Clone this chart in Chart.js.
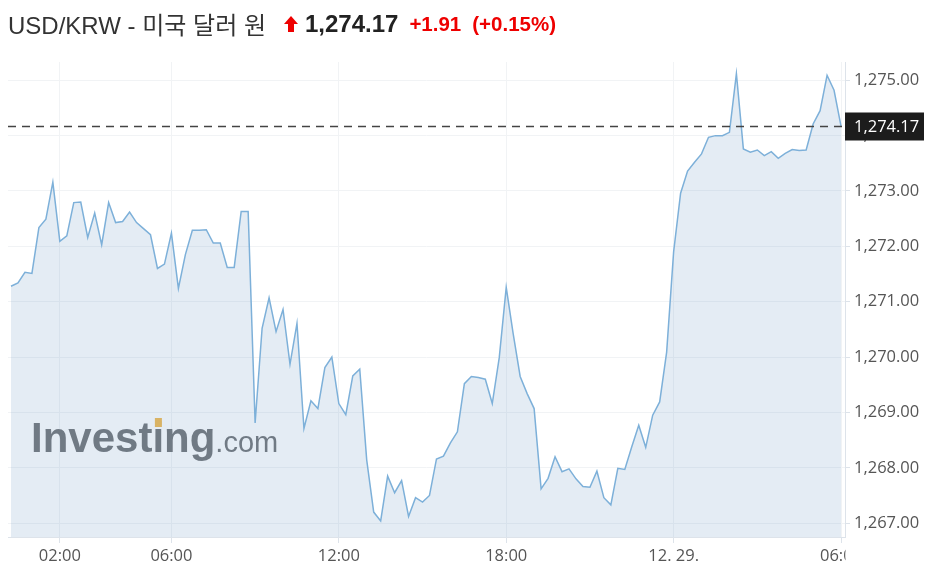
<!DOCTYPE html>
<html>
<head>
<meta charset="utf-8">
<script src="https://cdn.jsdelivr.net/npm/chart.js@4.4.1/dist/chart.umd.min.js"></script>
<style>
  body { margin: 0; background: #fff; }
  .wrap { position: relative; width: 936px; height: 584px; }
  .head {
    position: absolute; left: 8px; top: 6px; white-space: nowrap;
    font-family: "Liberation Sans", Arial, "Noto Sans CJK KR", sans-serif;
    color: #333; font-size: 24px; display: flex; align-items: center;
  }
  .head svg { margin: 0 7px 0 18px; }
  .price { font-weight: bold; color: #222; font-size: 24px; }
  .chg { font-weight: bold; color: #e00; font-size: 20.5px; margin-left: 11px; }
</style>
</head>
<body>
<div class="wrap">
  <canvas id="fx-chart" width="936" height="584"></canvas>
  <div class="head">
    <span>USD/KRW - 미국 달러 원</span>
    <svg width="14" height="16" viewBox="0 0 14 16"><polygon points="7,0 14,8 10,8 10,16 4,16 4,8 0,8" fill="#e00"/></svg>
    <span class="price">1,274.17</span>
    <span class="chg">+1.91</span>
    <span class="chg">(+0.15%)</span>
  </div>
</div>
<script>
// 15-minute quotes, 12/28 00:15 -> 12/29 06:00
const times = [
  "00:15","00:30","00:45","01:00","01:15","01:30","01:45","02:00","02:15","02:30","02:45","03:00",
  "03:15","03:30","03:45","04:00","04:15","04:30","04:45","05:00","05:15","05:30","05:45","06:00",
  "06:15","06:30","06:45","07:00","07:15","07:30","07:45","08:00","08:15","08:30","08:45","09:00",
  "09:15","09:30","09:45","10:00","10:15","10:30","10:45","11:00","11:15","11:30","11:45","12:00",
  "12:15","12:30","12:45","13:00","13:15","13:30","13:45","14:00","14:15","14:30","14:45","15:00",
  "15:15","15:30","15:45","16:00","16:15","16:30","16:45","17:00","17:15","17:30","17:45","18:00",
  "18:15","18:30","18:45","19:00","19:15","19:30","19:45","20:00","20:15","20:30","20:45","21:00",
  "21:15","21:30","21:45","22:00","22:15","22:30","22:45","23:00","23:15","23:30","23:45","00:00",
  "00:15","00:30","00:45","01:00","01:15","01:30","01:45","02:00","02:15","02:30","02:45","03:00",
  "03:15","03:30","03:45","04:00","04:15","04:30","04:45","05:00","05:15","05:30","05:45","06:00"
];
const prices = [
  1271.28, 1271.34, 1271.53, 1271.51, 1272.34, 1272.49, 1273.16, 1272.09, 1272.19, 1272.79,
  1272.80, 1272.16, 1272.60, 1272.03, 1272.79, 1272.43, 1272.45, 1272.62, 1272.43, 1272.32,
  1272.21, 1271.60, 1271.68, 1272.24, 1271.24, 1271.85, 1272.29, 1272.29, 1272.30, 1272.06,
  1272.06, 1271.62, 1271.62, 1272.63, 1272.63, 1268.81, 1270.52, 1271.07, 1270.46, 1270.86,
  1269.87, 1270.61, 1268.71, 1269.21, 1269.07, 1269.81, 1270.00, 1269.16, 1268.96, 1269.66,
  1269.78, 1268.14, 1267.20, 1267.04, 1267.85, 1267.55, 1267.77, 1267.12, 1267.46, 1267.38,
  1267.50, 1268.16, 1268.21, 1268.45, 1268.65, 1269.52, 1269.65, 1269.63, 1269.60, 1269.16,
  1269.99, 1271.26, 1270.42, 1269.65, 1269.34, 1269.07, 1267.62, 1267.81, 1268.20, 1267.93,
  1267.98, 1267.80, 1267.66, 1267.65, 1267.94, 1267.46, 1267.33, 1267.99, 1267.97, 1268.38,
  1268.77, 1268.37, 1268.95, 1269.19, 1270.09, 1271.90, 1272.96, 1273.36, 1273.52, 1273.67,
  1273.97, 1274.00, 1274.00, 1274.06, 1275.12, 1273.76, 1273.70, 1273.74, 1273.64, 1273.71,
  1273.59, 1273.68, 1273.75, 1273.73, 1273.74, 1274.21, 1274.45, 1275.09, 1274.82, 1274.17
];
const xTickAt = [7, 23, 47, 71, 95, 119];
const xTickLabels = ["02:00", "06:00", "12:00", "18:00", "12. 29.", "06:00"];
const yTicks = [1267, 1268, 1269, 1270, 1271, 1272, 1273, 1274, 1275];

const axisFont = { family: "'Open Sans', 'Noto Sans', sans-serif", size: 16.5 };
const fmt = v => v.toLocaleString("en-US", { minimumFractionDigits: 2, maximumFractionDigits: 2 });

// watermark under the area fill
const watermark = {
  id: "watermark",
  beforeDatasetsDraw(chart) {
    const ctx = chart.ctx;
    ctx.save();
    ctx.fillStyle = "#6f7174";
    ctx.textBaseline = "alphabetic";
    ctx.font = "bold 42px 'Liberation Sans', Arial, sans-serif";
    ctx.fillText("Investing", 31, 452);
    const w = ctx.measureText("Investing").width;
    const ix = 31 + ctx.measureText("Invest").width;
    ctx.fillStyle = "#f2b84b";
    ctx.fillRect(ix + 2.5, 418, 7, 9);
    ctx.fillStyle = "#6f7174";
    ctx.font = "29px 'Liberation Sans', Arial, sans-serif";
    ctx.fillText(".com", 31 + w, 452);
    ctx.restore();
  }
};

// dashed last-price line and price box
const lastPrice = {
  id: "lastPrice",
  afterDraw(chart) {
    const ctx = chart.ctx;
    const area = chart.chartArea;
    const y = Math.round(chart.scales.y.getPixelForValue(prices[prices.length - 1])) + 0.5;
    ctx.save();
    // hide the part of the last x label that runs past the axis
    ctx.fillStyle = "#fff";
    ctx.fillRect(area.right + 0.5, area.bottom + 3, 100, 60);
    ctx.strokeStyle = "#444";
    ctx.lineWidth = 1.3;
    ctx.setLineDash([8, 6]);
    ctx.beginPath();
    ctx.moveTo(area.left, y);
    ctx.lineTo(area.right, y);
    ctx.stroke();
    ctx.fillStyle = "#1c1c1c";
    ctx.fillRect(area.right, y - 14, 79, 28);
    ctx.fillStyle = "#fff";
    ctx.font = "16.5px 'Open Sans', 'Noto Sans', sans-serif";
    ctx.textBaseline = "middle";
    ctx.fillText(fmt(prices[prices.length - 1]), area.right + 9, y + 1);
    ctx.restore();
  }
};

new Chart(document.getElementById("fx-chart"), {
  type: "line",
  data: {
    labels: times,
    datasets: [{
      data: prices.map((p, i) => ({ x: i, y: p })),
      borderColor: "#7db0d9",
      borderWidth: 1.5,
      backgroundColor: "rgba(120, 160, 200, 0.2)",
      fill: "start",
      pointRadius: 0,
      tension: 0
    }]
  },
  options: {
    responsive: false,
    animation: false,
    layout: { padding: { top: 62, left: 8, right: 0, bottom: 0 } },
    plugins: { legend: { display: false }, tooltip: { enabled: false } },
    scales: {
      x: {
        type: "linear",
        min: -0.43,
        max: 119.57,
        afterBuildTicks: s => { s.ticks = xTickAt.map(v => ({ value: v })); },
        afterFit: s => { s.height = 47; },
        grid: { color: "#f1f3f5", tickColor: "#dde3ea", tickLength: 6 },
        border: { color: "#dde3ea" },
        ticks: {
          callback: v => xTickLabels[xTickAt.indexOf(v)],
          color: "#555", font: axisFont, padding: 3, maxRotation: 0, autoSkip: false
        }
      },
      y: {
        position: "right",
        min: 1266.75,
        max: 1275.33,
        afterBuildTicks: s => { s.ticks = yTicks.map(v => ({ value: v })); },
        afterFit: s => { s.width = 91; },
        grid: { color: "#f1f3f5", tickColor: "#dde3ea", tickLength: 5 },
        border: { color: "#dde3ea" },
        ticks: { callback: v => fmt(v), color: "#555", font: axisFont, padding: 4 }
      }
    }
  },
  plugins: [watermark, lastPrice]
});
</script>
</body>
</html>
